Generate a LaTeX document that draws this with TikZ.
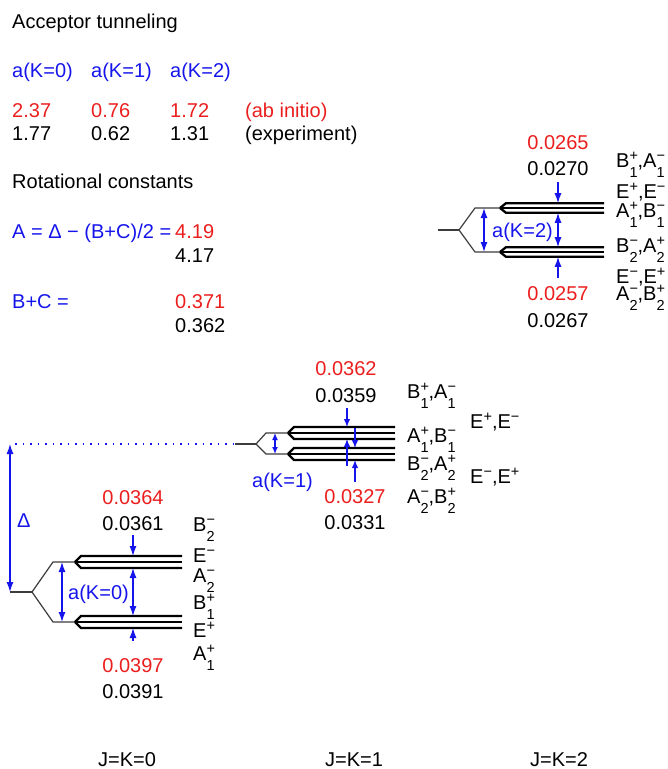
\documentclass[tikz,border=0pt]{standalone}
\usepackage{fontspec}
\setmainfont{Liberation Sans}
\usetikzlibrary{arrows.meta}
\definecolor{myred}{RGB}{235,30,30}
\definecolor{myblue}{RGB}{20,20,235}
\definecolor{branchgray}{RGB}{60,60,60}
\newcommand{\smallsz}{\fontsize{14.5}{15}\selectfont}
\newcommand{\lv}[3]{#1\rlap{\raisebox{6.8pt}{\smallsz #2}}\raisebox{-10.5pt}{\smallsz #3}}
\newcommand{\lvs}[2]{#1\raisebox{6.8pt}{\smallsz #2}}
\newcommand{\fangroup}[5]{%
  \coordinate (#1v) at (#2,#3);
  \foreach \d in {-1,0,1} {\draw[lvl] (#1v) -- ++(6,\d*#4) -- (#5,#3+\d*#4);}
}
\tikzset{
  lvl/.style={line width=2.3pt, black},
  br/.style={line width=1.2pt, branchgray},
  arr/.style={myblue, line width=1.3pt, -{Latex[length=10pt,width=7pt]}},
  darr/.style={myblue, line width=1.3pt, {Latex[length=10pt,width=7pt]}-{Latex[length=10pt,width=7pt]}},
  sarr/.style={myblue, line width=1.3pt, -{Latex[length=8pt,width=6.5pt]}},
  txt/.style={inner sep=0pt, anchor=base west},
  txtc/.style={inner sep=0pt, anchor=base},
}
\begin{document}
\begin{tikzpicture}[x=1pt,y=-1pt,font=\fontsize{20}{24}\selectfont]
\useasboundingbox (0,0) rectangle (668,769);
% ---------- top text block ----------
\node[txt] (title1) at (12,28) {Acceptor tunneling};
\node[txt,myblue] (ha0) at (12,77) {a(K=0)};
\node[txt,myblue] (ha1) at (91,77) {a(K=1)};
\node[txt,myblue] (ha2) at (170,77) {a(K=2)};
\node[txt,myred] (r0) at (12,117) {2.37};
\node[txt,myred] (r1) at (91,117) {0.76};
\node[txt,myred] (r2) at (170,117) {1.72};
\node[txt,myred] (r3) at (245,117) {(ab initio)};
\node[txt] (e0) at (12,140) {1.77};
\node[txt] (e1) at (91,140) {0.62};
\node[txt] (e2) at (170,140) {1.31};
\node[txt] (e3) at (245,140) {(experiment)};
\node[txt] (title2) at (12,188) {Rotational constants};
\node[txt,myblue] (aeq) at (12,238) {A = Δ − (B+C)/2 =};
\node[txt,myred] (aval1) at (175,238) {4.19};
\node[txt] (aval2) at (175,262) {4.17};
\node[txt,myblue] (bceq) at (12,308) {B+C =};
\node[txt,myred] (bc1) at (175,308) {0.371};
\node[txt] (bc2) at (175,332) {0.362};
% ---------- K=0 ----------
\coordinate (k0base) at (10,592);
\coordinate (k0node) at (32,592);
\coordinate (k0t) at (53,562);
\coordinate (k0b) at (53,622);
\draw[br] (k0base) -- (k0node);
\draw[br] (k0node) -- (k0t) -- (75,562);
\draw[br] (k0node) -- (k0b) -- (75,622);
\fangroup{k0up}{75}{562}{6}{182}
\fangroup{k0dn}{75}{622}{6}{182}
\coordinate (dtop) at (10,444);
\draw[darr] (dtop) -- (k0base);
\node[txt,myblue] (delta) at (17,527) {Δ};
\coordinate (ak0t) at (62,562);
\coordinate (ak0b) at (62,622);
\draw[darr] (ak0t) -- (ak0b);
\node[txt,myblue] (ak0lab) at (68,599) {a(K=0)};
\coordinate (k0a1) at (133,535); \coordinate (k0a1e) at (133,556);
\coordinate (k0mid) at (133,592); \coordinate (k0a2e) at (133,568); \coordinate (k0a3e) at (133,616);
\coordinate (k0a4) at (133,641); \coordinate (k0a4e) at (133,628);
\draw[arr] (k0a1) -- (k0a1e);
\draw[arr] (k0mid) -- (k0a2e);
\draw[arr] (k0mid) -- (k0a3e);
\draw[arr] (k0a4) -- (k0a4e);
\node[txtc,myred] (v0364) at (133,504) {0.0364};
\node[txtc] (v0361) at (133,530) {0.0361};
\node[txtc,myred] (v0397) at (133,672) {0.0397};
\node[txtc] (v0391) at (133,698) {0.0391};
\node[txt] (l0a) at (193,531) {\lv{B}{−}{2}};
\node[txt] (l0b) at (193,562) {\lvs{E}{−}};
\node[txt] (l0c) at (193,582) {\lv{A}{−}{2}};
\node[txt] (l0d) at (193,609) {\lv{B}{+}{1}};
\node[txt] (l0e) at (193,637) {\lvs{E}{+}};
\node[txt] (l0f) at (193,660) {\lv{A}{+}{1}};
% ---------- K=1 ----------
\coordinate (k1base) at (235,444);
\coordinate (k1node) at (256,444);
\coordinate (k1t) at (266,433);
\coordinate (k1b) at (266,454);
\draw[myblue, line width=1.5pt, dash pattern=on 1.5pt off 6pt] (dtop) ++(5,0) -- (k1base);
\draw[br] (k1base) -- (k1node);
\draw[br] (k1node) -- (k1t) -- (288,433);
\draw[br] (k1node) -- (k1b) -- (288,454);
\fangroup{k1up}{288}{433}{6}{395}
\fangroup{k1dn}{288}{454}{6}{395}
\coordinate (ak1t) at (275,433);
\coordinate (ak1b) at (275,454);
\draw[myblue, line width=1.3pt, {Latex[length=7pt,width=6pt]}-{Latex[length=7pt,width=6pt]}] (ak1t) -- (ak1b);
\node[txt,myblue] (ak1lab) at (252,487) {a(K=1)};
\coordinate (k1a1) at (347,408); \coordinate (k1a1e) at (347,427);
\coordinate (k1a2) at (347,466); \coordinate (k1a2e) at (347,439);
\coordinate (k1a3) at (355,428); \coordinate (k1a3e) at (355,448);
\coordinate (k1a4) at (355,482); \coordinate (k1a4e) at (355,460);
\draw[sarr] (k1a1) -- (k1a1e);
\draw[sarr] (k1a2) -- (k1a2e);
\draw[sarr] (k1a3) -- (k1a3e);
\draw[sarr] (k1a4) -- (k1a4e);
\node[txtc,myred] (v0362) at (346,375) {0.0362};
\node[txtc] (v0359) at (346,402) {0.0359};
\node[txtc,myred] (v0327) at (355,503) {0.0327};
\node[txtc] (v0331) at (355,529) {0.0331};
\node[txt] (l1a) at (407,398) {\lv{B}{+}{1},\lv{A}{−}{1}};
\node[txt] (l1b) at (470,428) {\lvs{E}{+},\lvs{E}{−}};
\node[txt] (l1c) at (407,442) {\lv{A}{+}{1},\lv{B}{−}{1}};
\node[txt] (l1d) at (407,470) {\lv{B}{−}{2},\lv{A}{+}{2}};
\node[txt] (l1e) at (470,483) {\lvs{E}{−},\lvs{E}{+}};
\node[txt] (l1f) at (407,503) {\lv{A}{−}{2},\lv{B}{+}{2}};
% ---------- K=2 ----------
\coordinate (k2base) at (438,230);
\coordinate (k2node) at (459,230);
\coordinate (k2t) at (475,208);
\coordinate (k2b) at (475,252);
\draw[br] (k2base) -- (k2node);
\draw[br] (k2node) -- (k2t) -- (500,208);
\draw[br] (k2node) -- (k2b) -- (500,252);
\fangroup{k2up}{500}{208}{4.8}{604}
\fangroup{k2dn}{500}{252}{4.8}{604}
\coordinate (ak2t) at (484,208);
\coordinate (ak2b) at (484,252);
\draw[darr] (ak2t) -- (ak2b);
\node[txt,myblue] (ak2lab) at (492,237) {a(K=2)};
\coordinate (k2a1) at (558,182); \coordinate (k2a1e) at (558,203.2);
\coordinate (k2mid) at (558,230); \coordinate (k2a2e) at (558,212.8); \coordinate (k2a3e) at (558,247.2);
\coordinate (k2a4) at (558,278); \coordinate (k2a4e) at (558,256.8);
\draw[arr] (k2a1) -- (k2a1e);
\draw[arr] (k2mid) -- (k2a2e);
\draw[arr] (k2mid) -- (k2a3e);
\draw[arr] (k2a4) -- (k2a4e);
\node[txtc,myred] (v0265) at (558,149) {0.0265};
\node[txtc] (v0270) at (558,175) {0.0270};
\node[txtc,myred] (v0257) at (558,300) {0.0257};
\node[txtc] (v0267) at (558,327) {0.0267};
\node[txt] (l2a) at (616,167) {\lv{B}{+}{1},\lv{A}{−}{1}};
\node[txt] (l2b) at (616,198) {\lvs{E}{+},\lvs{E}{−}};
\node[txt] (l2c) at (616,217) {\lv{A}{+}{1},\lv{B}{−}{1}};
\node[txt] (l2d) at (616,252) {\lv{B}{−}{2},\lv{A}{+}{2}};
\node[txt] (l2e) at (616,283) {\lvs{E}{−},\lvs{E}{+}};
\node[txt] (l2f) at (616,300) {\lv{A}{−}{2},\lv{B}{+}{2}};
% ---------- bottom labels ----------
\node[txtc] (j0) at (127,766) {J=K=0};
\node[txtc] (j1) at (354,766) {J=K=1};
\node[txtc] (j2) at (559,766) {J=K=2};
\end{tikzpicture}
\end{document}
